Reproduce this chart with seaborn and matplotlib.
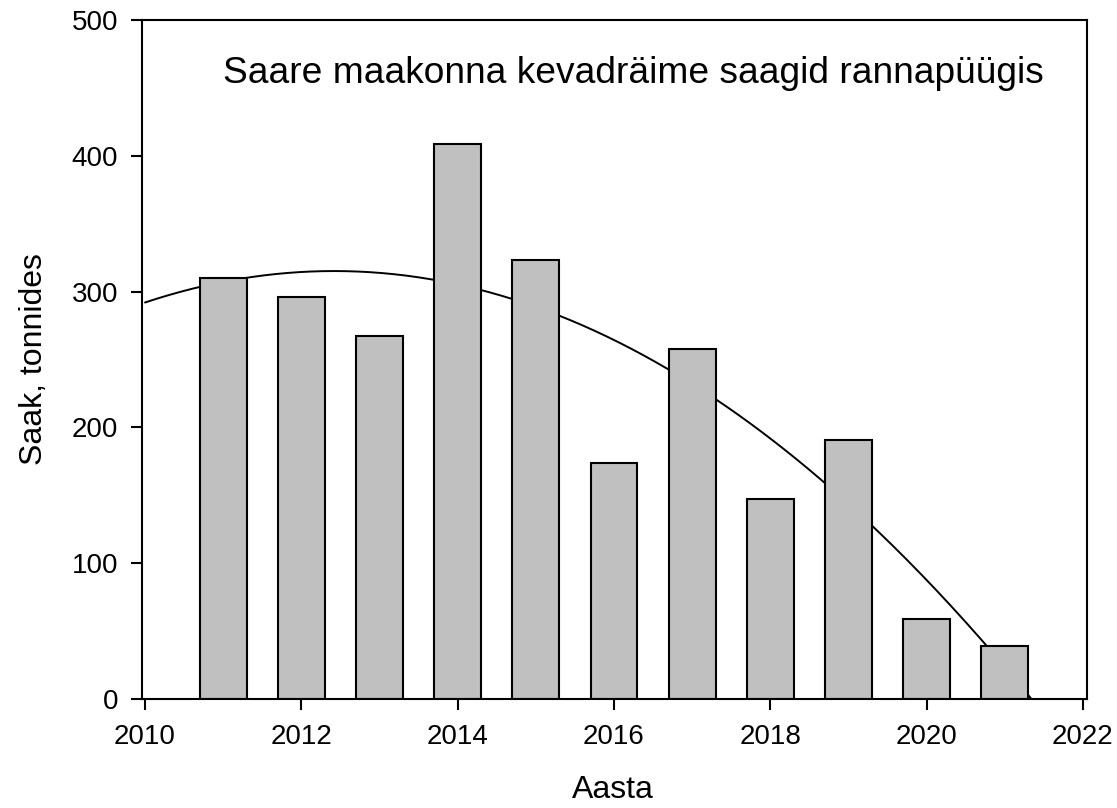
import numpy as np
import pandas as pd
import matplotlib
matplotlib.use("Agg")
import matplotlib.pyplot as plt
import seaborn as sns

# Data
years = [2011, 2012, 2013, 2014, 2015, 2016, 2017, 2018, 2019, 2020, 2021]
catch = [310, 296, 267, 409, 323, 174, 258, 147, 191, 59, 39]
title = "Saare maakonna kevadräime saagid rannapüügis"
xlabel = "Aasta"
ylabel = "Saak, tonnides"
xticks = [2010, 2012, 2014, 2016, 2018, 2020, 2022]
yticks = [0, 100, 200, 300, 400, 500]

sns.set_theme(style="ticks")
plt.rcParams["font.family"] = ["Liberation Sans", "DejaVu Sans"]
plt.rcParams["text.color"] = "black"
plt.rcParams["axes.labelcolor"] = "black"

df = pd.DataFrame({"Aasta": years, "Saak": catch})

fig = plt.figure(figsize=(11.17, 8.08), dpi=100)
ax = fig.add_axes([0.127, 0.135, 0.846, 0.840])

sns.barplot(data=df, x="Aasta", y="Saak", native_scale=True, width=0.6,
            color="#c0c0c0", saturation=1, edgecolor="black", linewidth=1.5,
            ax=ax, zorder=2)

# quadratic trend fitted to the data, drawn from 2010 to where it reaches zero
coef = np.polyfit(years, catch, 2)
roots = np.roots(coef)
xend = max(r.real for r in roots if abs(r.imag) < 1e-9)
xs = np.linspace(2010, xend, 300)
trend = pd.DataFrame({"x": xs, "y": np.polyval(coef, xs)})
sns.lineplot(data=trend, x="x", y="y", color="black", linewidth=1.4, ax=ax, zorder=1)

ax.set_xlim(2009.96, 2022.05)
ax.set_ylim(0, 500)
ax.set_xticks(xticks)
ax.set_xticklabels([str(t) for t in xticks])
ax.set_yticks(yticks)
ax.tick_params(direction="out", length=8, width=1.5, labelsize=20, colors="black")
ax.tick_params(axis="x", pad=10)
ax.tick_params(axis="y", pad=9)
for s in ax.spines.values():
    s.set_linewidth(1.5)
    s.set_color("black")
    s.set_visible(True)
ax.set_xlabel(xlabel, fontsize=23)
ax.set_ylabel(ylabel, fontsize=23)
ax.xaxis.set_label_coords(0.498, -0.112)
ax.yaxis.set_label_coords(-0.0985, 0.5)
ax.text(0.52, 0.907, title, transform=ax.transAxes, ha="center", va="baseline",
        fontsize=26.7, color="black")

fig.savefig("out.png", dpi=100)
